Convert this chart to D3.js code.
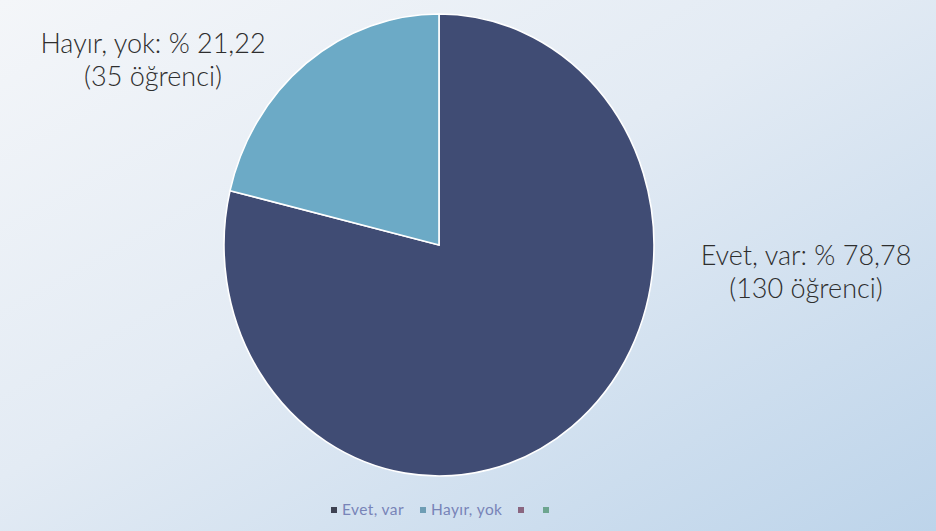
<!DOCTYPE html>
<html><head><meta charset="utf-8">
<script src="https://cdn.jsdelivr.net/npm/d3@7"></script>
<style>html,body{margin:0;padding:0;overflow:hidden;}</style>
</head><body>
<svg id="c" width="936" height="531"></svg>
<script>
const categories = ["Evet, var", "Hayır, yok"];
const percents = [78.78, 21.22];
const counts = [130, 35];
const percentLabels = ["78,78", "21,22"];
const legendItems = ["Evet, var", "Hayır, yok", "", ""];
const sliceColors = ["#404c74", "#6caac6"];
const legendColors = ["#3e4252", "#6e9db4", "#8a6680", "#6da58f"];

const svg = d3.select("#c");
const defs = svg.append("defs");
const grad = defs.append("linearGradient").attr("id","bg")
  .attr("x1","0").attr("y1","0").attr("x2","1").attr("y2","1");
grad.append("stop").attr("offset","0").attr("stop-color","#f4f6f9");
grad.append("stop").attr("offset","0.45").attr("stop-color","#e3ebf4");
grad.append("stop").attr("offset","1").attr("stop-color","#bdd4ea");
svg.append("rect").attr("width",936).attr("height",531).attr("fill","url(#bg)");

const cx = 439, cy = 245, rx = 215, ry = 231;
const pie = d3.pie().sort(null).value(d => d);
const arc = d3.arc().innerRadius(0).outerRadius(rx);
const g = svg.append("g").attr("transform", `translate(${cx},${cy}) scale(1,${ry/rx})`);
g.selectAll("path").data(pie(percents)).join("path")
  .attr("d", arc).attr("fill", (d,i) => sliceColors[i])
  .attr("stroke", "#ffffff").attr("stroke-width", 1.6)
  .attr("vector-effect","non-scaling-stroke");

const font = "'Lato', 'DejaVu Sans', sans-serif";
const labels = [
  {lines: [`${categories[0]}: % ${percentLabels[0]}`, `(${counts[0]} öğrenci)`], x: 806, y: [265, 298]},
  {lines: [`${categories[1]}: % ${percentLabels[1]}`, `(${counts[1]} öğrenci)`], x: 153, y: [53, 86]}
];
labels.forEach(l => {
  l.lines.forEach((t, j) => {
    svg.append("text").attr("x", l.x).attr("y", l.y[j])
      .attr("text-anchor","middle").attr("font-family", font).attr("font-weight", 300)
      .attr("font-size", 27).attr("fill","#2e2e2e").text(t);
  });
});

// legend
const legX = [331, 420, 518, 543];
const leg = svg.append("g");
legendItems.forEach((t, i) => {
  leg.append("rect").attr("x", legX[i]).attr("y", 507).attr("width", 6).attr("height", 6)
    .attr("fill", legendColors[i]);
  if (t) leg.append("text").attr("x", legX[i] + 11).attr("y", 515)
    .attr("font-family", font).attr("font-size", 15.5).attr("letter-spacing", 0.4)
    .attr("fill", "#7884b8").text(t);
});
</script>
</body></html>
